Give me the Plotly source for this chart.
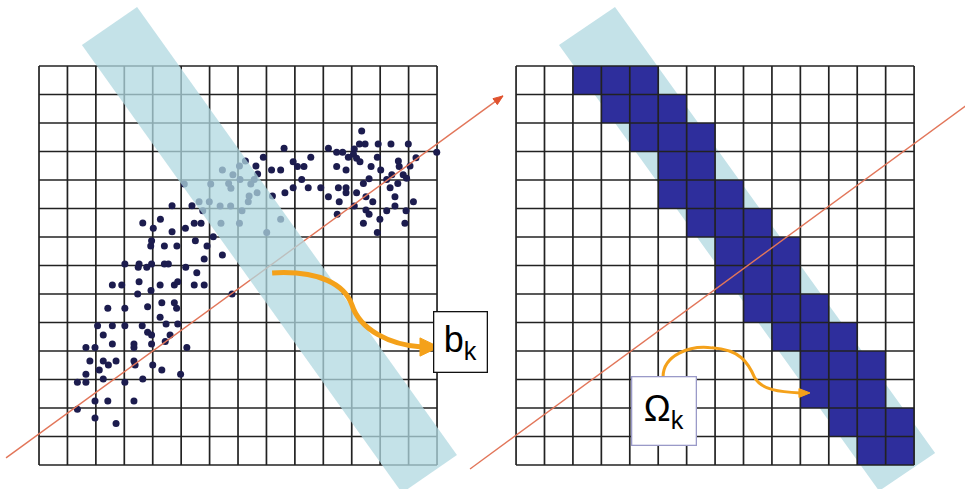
import math
import plotly.graph_objects as go

# ---------------- data (grid-cell units; left grid spans 0..14) ----------------
GRID_N = 14
RIGHT_X0 = 16.78  # left edge of the right grid

scatter_x = [8.62, 7.89, 7.63, 8.18, 8.50, 7.69, 8.65, 8.94, 9.09, 9.32, 9.56, 9.24, 8.94, 9.47, 9.91,
             10.18, 10.47, 10.68, 11.09, 11.06, 10.88, 11.17, 11.29, 11.35, 11.27, 11.47, 11.93, 12.38, 12.99,
             11.90, 12.64, 13.26, 13.99, 10.47, 10.80, 11.68, 12.02, 12.67, 13.05, 12.41, 12.81, 12.93, 11.61,
             12.23, 11.41, 12.62, 10.53, 10.80, 10.80, 11.17, 12.35, 10.18, 11.50, 12.52, 10.56, 11.74, 13.17,
             11.09, 12.52, 11.50, 11.61, 12.23, 12.91, 10.49, 11.99, 11.41, 12.87, 11.90,
             4.68, 5.38, 3.65, 4.27, 4.02, 4.68, 5.15, 5.46, 5.70, 6.13, 3.96, 3.93, 4.41, 4.85, 5.50, 5.91,
             7.26, 7.05, 6.45, 6.82, 7.07, 7.57, 5.11, 6.04, 6.67, 6.75, 7.45, 7.67, 7.39, 7.36, 5.63, 5.99,
             5.76, 6.37, 6.74, 7.14, 6.40, 7.05, 8.01, 8.50, 8.21,
             6.45, 5.81, 3.02, 3.52, 3.49, 3.79, 3.96, 4.41, 4.55, 5.16, 5.55, 2.58, 2.91, 3.52, 4.26, 4.76,
             4.88, 5.46, 5.81, 3.47, 3.94, 6.79, 2.42, 3.02, 3.82, 4.32, 4.76, 4.84, 4.26, 2.06, 2.58, 3.02,
             3.63, 4.47, 4.88, 2.26, 3.82, 3.96, 4.61, 1.65, 1.97, 2.58, 3.34, 3.34, 3.96, 4.44, 5.20, 1.79,
             2.26, 2.44, 2.71, 3.34, 3.38, 2.12, 4.00, 4.32, 1.65, 2.26, 3.65, 4.98, 1.35, 1.65, 3.02, 1.97,
             2.42, 3.34, 1.35, 1.97, 2.71]
scatter_y = [11.11, 10.80, 10.49, 10.35, 10.35, 10.21, 9.55, 10.64, 10.47, 10.47, 10.80, 10.02, 9.73, 9.73, 9.73,
             11.11, 10.97, 10.97, 11.09, 10.90, 10.80, 10.76, 10.64, 11.72, 11.26, 11.26, 11.26, 11.26, 11.26,
             10.80, 10.67, 10.78, 10.97, 10.47, 10.35, 10.47, 10.35, 10.47, 10.49, 10.18, 10.18, 10.06, 10.04,
             10.02, 9.88, 9.88, 9.73, 9.73, 9.55, 9.55, 9.73, 9.41, 9.41, 9.41, 9.24, 9.24, 9.24,
             9.09, 9.09, 8.95, 8.80, 8.92, 8.92, 8.80, 8.62, 8.48, 8.48, 8.16,
             9.10, 9.10, 8.49, 8.62, 8.31, 8.18, 8.31, 8.48, 8.48, 8.01, 7.87, 7.68, 7.68, 7.68, 7.87, 7.68,
             10.67, 10.49, 10.35, 10.18, 10.02, 10.02, 9.86, 9.86, 9.88, 9.71, 9.86, 9.55, 9.44, 9.24, 9.24, 9.24,
             8.92, 9.09, 9.09, 8.92, 8.48, 8.48, 8.16, 8.62, 9.44,
             7.37, 7.23, 7.05, 7.05, 6.94, 6.94, 7.05, 7.05, 7.05, 6.94, 6.75, 6.32, 6.32, 6.43, 6.32, 6.32,
             6.43, 6.32, 6.32, 6.00, 6.12, 6.00, 5.50, 5.50, 5.55, 5.69, 5.69, 5.50, 5.18, 4.89, 4.89, 4.89,
             4.89, 4.95, 4.95, 4.56, 4.66, 4.56, 4.56, 4.12, 4.12, 4.25, 4.25, 4.12, 4.25, 4.33, 4.12, 3.65,
             3.65, 3.51, 3.65, 3.65, 3.51, 3.33, 3.51, 3.33, 3.18, 3.02, 3.02, 3.18, 2.90, 2.90, 2.90, 2.25,
             2.25, 2.25, 1.96, 1.65, 1.46]

# filled cells of the right grid: row index from top -> filled column indices
filled_rows = list(range(14))
filled_cols = [[2, 3, 4], [3, 4, 5], [4, 5, 6], [5, 6], [5, 6, 7], [6, 7, 8], [7, 8, 9],
               [7, 8, 9], [8, 9, 10], [9, 10, 11], [10, 11, 12], [10, 11, 12], [11, 12, 13], [12, 13]]

# projection lines (start, end) and band corners (grid units)
left_line_x = [-1.16, 16.32]
left_line_y = [0.25, 12.95]
right_line_x = [15.16, 32.92]
right_line_y = [-0.14, 12.84]
left_band_x = [1.51, 3.45, 14.70, 12.77]
left_band_y = [14.74, 16.07, 0.35, -0.98]
right_band_x = [18.29, 20.26, 31.52, 29.55]
right_band_y = [14.74, 16.07, 0.42, -0.91]

# curved arrows: start + cubic bezier control triples, and arrowhead (tip, base1, base2)
left_curve = [(8.20, 6.74), (9.88, 6.84), (10.76, 6.32), (11.01, 5.61),
              (11.29, 4.74), (12.35, 4.21), (13.47, 4.14)]
left_head = [(14.07, 4.14), (13.40, 4.46), (13.40, 3.82)]
right_curve = [(21.95, 3.09), (21.95, 3.86), (22.90, 4.21), (23.67, 4.11),
               (24.66, 4.04), (24.94, 3.61), (25.18, 3.05),
               (25.43, 2.63), (26.06, 2.56), (26.77, 2.53)]
right_head = [(27.12, 2.53), (26.73, 2.68), (26.73, 2.37)]

labels = ["b<sub>k</sub>", "Ω<sub>k</sub>"]
label_pos = [(14.84, 4.30), (22.00, 1.91)]

# ---------------- styles ----------------
GRID_COLOR = "#222222"
DOT_COLOR = "#1c1c4e"
CELL_COLOR = "#2e2e9c"
BAND_RGBA = "rgba(176,216,224,0.75)"
BAND_SOLID = "#c4e2e8"
RED = "#e2765a"
ORANGE = "#f4a11a"
FONT = "Arial, Liberation Sans, sans-serif"


def grid_xy(x0):
    xs, ys = [], []
    for i in range(GRID_N + 1):
        xs += [x0 + i, x0 + i, None]
        ys += [0, GRID_N, None]
        xs += [x0, x0 + GRID_N, None]
        ys += [i, i, None]
    return xs, ys


def poly_path(xs, ys):
    return "M " + " L ".join(f"{x},{y}" for x, y in zip(xs, ys)) + " Z"


def bezier_path(pts):
    s = f"M {pts[0][0]},{pts[0][1]}"
    for k in range(1, len(pts), 3):
        a, b, c = pts[k], pts[k + 1], pts[k + 2]
        s += f" C {a[0]},{a[1]} {b[0]},{b[1]} {c[0]},{c[1]}"
    return s


def tri_path(p):
    return f"M {p[0][0]},{p[0][1]} L {p[1][0]},{p[1][1]} L {p[2][0]},{p[2][1]} Z"


fig = go.Figure()

# filled cells (right grid)
cx, cy = [], []
for r, cols in zip(filled_rows, filled_cols):
    ytop = GRID_N - r
    for c in cols:
        x0 = RIGHT_X0 + c
        cx += [x0, x0 + 1, x0 + 1, x0, x0, None]
        cy += [ytop, ytop, ytop - 1, ytop - 1, ytop, None]
fig.add_trace(go.Scatter(x=cx, y=cy, mode="lines", fill="toself", fillcolor=CELL_COLOR,
                         line=dict(width=0, color=CELL_COLOR), hoverinfo="skip"))

# grids
for x0 in (0, RIGHT_X0):
    gx, gy = grid_xy(x0)
    fig.add_trace(go.Scatter(x=gx, y=gy, mode="lines", line=dict(color=GRID_COLOR, width=1.7),
                             hoverinfo="skip"))

# scatter points
fig.add_trace(go.Scatter(x=scatter_x, y=scatter_y, mode="markers",
                         marker=dict(size=7, color=DOT_COLOR), hoverinfo="skip"))

# projection lines
fig.add_trace(go.Scatter(x=left_line_x, y=left_line_y, mode="lines",
                         line=dict(color=RED, width=1.4), hoverinfo="skip"))
fig.add_trace(go.Scatter(x=right_line_x, y=right_line_y, mode="lines",
                         line=dict(color=RED, width=1.4), hoverinfo="skip"))

# arrowhead at the tip of the left projection line
dx = left_line_x[1] - left_line_x[0]
dy = left_line_y[1] - left_line_y[0]
L = math.hypot(dx, dy)
ux, uy = dx / L, dy / L
tip = (left_line_x[1], left_line_y[1])
bx, by = tip[0] - 0.34 * ux, tip[1] - 0.34 * uy
red_head = [tip, (bx - 0.13 * uy, by + 0.13 * ux), (bx + 0.13 * uy, by - 0.13 * ux)]

shapes = [
    dict(type="path", path=poly_path(right_band_x, right_band_y), fillcolor=BAND_SOLID,
         line=dict(width=0), layer="below", xref="x", yref="y"),
    dict(type="path", path=poly_path(left_band_x, left_band_y), fillcolor=BAND_RGBA,
         line=dict(width=0), layer="above", xref="x", yref="y"),
    dict(type="path", path=tri_path(red_head), fillcolor="#e0522e", line=dict(color="#e0522e", width=1),
         layer="above", xref="x", yref="y"),
    dict(type="path", path=bezier_path(left_curve), line=dict(color=ORANGE, width=5),
         layer="above", xref="x", yref="y"),
    dict(type="path", path=tri_path(left_head), fillcolor=ORANGE, line=dict(color=ORANGE, width=1),
         layer="above", xref="x", yref="y"),
    dict(type="path", path=bezier_path(right_curve), line=dict(color=ORANGE, width=3),
         layer="above", xref="x", yref="y"),
    dict(type="path", path=tri_path(right_head), fillcolor=ORANGE, line=dict(color=ORANGE, width=1),
         layer="above", xref="x", yref="y"),
]

annotations = [
    dict(x=label_pos[0][0], y=label_pos[0][1], xref="x", yref="y", text=labels[0], showarrow=False,
         font=dict(family=FONT, size=36, color="black"), bgcolor="white", bordercolor="#111",
         borderwidth=1.3, borderpad=0, width=52, height=59, xanchor="center", yanchor="middle"),
    dict(x=label_pos[1][0], y=label_pos[1][1], xref="x", yref="y", text=labels[1], showarrow=False,
         font=dict(family=FONT, size=36, color="black"), bgcolor="white", bordercolor="#9a9ac8",
         borderwidth=1.3, borderpad=0, width=63, height=67, xanchor="center", yanchor="middle"),
]

fig.update_layout(
    width=965, height=489, autosize=False,
    margin=dict(l=0, r=0, t=0, b=0),
    paper_bgcolor="white", plot_bgcolor="white",
    showlegend=False,
    xaxis=dict(range=[-1.372, 32.571], visible=False, showgrid=False, zeroline=False, fixedrange=True),
    yaxis=dict(range=[-0.842, 16.316], visible=False, showgrid=False, zeroline=False, fixedrange=True),
    shapes=shapes,
    annotations=annotations,
)

fig.write_html("out.html", config={"displayModeBar": False},
               post_script="document.body.style.margin='0';document.body.style.overflow='hidden';")
